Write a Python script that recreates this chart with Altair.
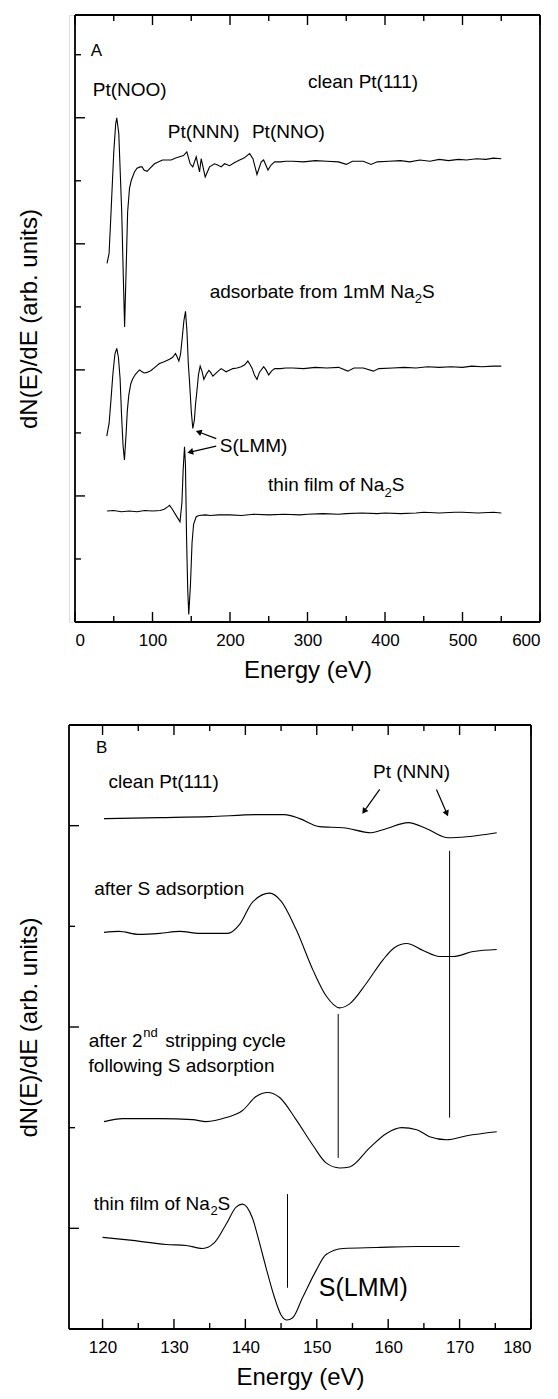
import math
import altair as alt
import pandas as pd

FONT = "Liberation Sans"

# ---------------- Panel A: survey spectra (energy in eV, signal in arb. units) ----------------
a_clean_E = [41.4, 44, 46.5, 50, 52.5, 53.9, 56.5, 60.3, 62.5, 64, 66, 67.9, 70.3, 72.5, 76.7, 80, 84,
             86.6, 89, 93, 97, 102.6, 108, 113, 118, 124, 130, 135, 140, 144.3, 148.6, 152, 156.4,
             160.7, 162.8, 168, 173.6, 180, 184, 188.6, 193, 199.5, 206, 212.4, 218, 225.3, 229.6,
             234.8, 240.3, 243.4, 249, 253, 257.6, 265, 272, 281, 295, 310, 325, 340, 350, 358, 372,
             382, 390, 405, 420, 432, 445, 458, 470, 482, 495, 505, 518, 530, 540, 550]
a_clean_u = [5.69, 5.85, 6.5, 7.45, 7.9, 8.0, 7.75, 6.5, 5.4, 4.68, 5.6, 6.5, 6.88, 7.0, 7.14, 7.2, 7.22,
             7.22, 7.17, 7.15, 7.2, 7.27, 7.3, 7.33, 7.33, 7.33, 7.36, 7.38, 7.4, 7.46, 7.27, 7.22, 7.38,
             7.14, 7.35, 7.06, 7.22, 7.27, 7.25, 7.22, 7.27, 7.24, 7.29, 7.33, 7.36, 7.43, 7.35,
             7.10, 7.30, 7.33, 7.17, 7.25, 7.30, 7.30, 7.31, 7.31, 7.30, 7.32, 7.31, 7.30, 7.26, 7.31, 7.31,
             7.26, 7.30, 7.31, 7.32, 7.30, 7.33, 7.31, 7.34, 7.32, 7.34, 7.33, 7.35, 7.34, 7.36, 7.35]

a_ads_E = [41, 44, 46.5, 49, 51.5, 53.9, 56, 58.2, 60, 62, 63.8, 66, 67.5, 69.4, 72, 74.5, 78, 83.2,
           86.5, 89.6, 93, 98.2, 103, 109, 115, 122, 126, 129.7, 132, 134, 136.2, 138.3, 140.5, 142.6,
           144.5, 146.2, 147.8, 150, 152, 154, 155.5, 157.2, 159.3, 161.5, 163.8, 166.3, 169.5, 172.7,
           175, 177.9, 183, 188.6, 195, 203.7, 209, 214.5, 219, 223, 226, 228.7, 231.5, 234.8, 238,
           243.4, 246.5, 249.9, 253.5, 257.6, 265, 272, 281, 295, 310, 325, 340, 352, 360, 372, 385,
           392, 410, 425, 440, 455, 470, 485, 500, 512, 525, 540, 550]
a_ads_u = [2.95, 3.15, 3.54, 3.95, 4.25, 4.34, 4.2, 3.86, 3.3, 2.8, 2.57, 3.0, 3.35, 3.60, 3.78, 3.86,
           3.93, 4.0, 3.97, 3.95, 3.96, 3.99, 4.04, 4.10, 4.13, 4.17, 4.2, 4.26, 4.2, 4.14, 4.25, 4.50,
           4.78, 4.93, 4.6, 4.1, 3.81, 3.35, 3.07, 3.2, 3.45, 3.65, 3.92, 4.06, 3.98, 3.85, 3.93, 3.99,
           3.96, 3.90, 3.96, 4.02, 3.97, 4.02, 4.03, 4.05, 4.08, 4.14, 4.08, 4.02, 3.92, 3.85, 3.96,
           4.05, 4.0, 3.92, 3.98, 4.02, 4.02, 4.03, 4.03, 4.02, 4.04, 4.03, 4.04, 3.98, 4.03, 4.03, 3.98,
           4.02, 4.03, 4.04, 4.03, 4.05, 4.04, 4.05, 4.04, 4.06, 4.05, 4.06, 4.06]

a_film_E = [41.4, 50, 60, 70, 80, 90, 100, 110, 115, 120, 122, 125, 130, 134, 135.5, 138, 139.5, 141.3,
            142.5, 144, 145.5, 146.8, 149, 151, 153, 156.4, 160, 168, 175, 185, 200, 215, 230, 250,
            270, 290, 300, 320, 340, 350, 370, 390, 400, 420, 440, 450, 470, 490, 500, 520, 540, 550]
a_film_u = [1.76, 1.77, 1.75, 1.76, 1.75, 1.77, 1.76, 1.77, 1.79, 1.83, 1.85, 1.80, 1.70, 1.62, 1.59,
            1.9, 2.4, 2.78, 2.5, 1.3, 0.5, 0.12, 0.6, 1.25, 1.55, 1.67, 1.69, 1.70, 1.69, 1.70, 1.70,
            1.69, 1.71, 1.70, 1.71, 1.70, 1.71, 1.72, 1.71, 1.72, 1.73, 1.72, 1.73, 1.72, 1.73, 1.74,
            1.73, 1.74, 1.74, 1.73, 1.74, 1.73]

# ---------------- Panel B: S(LMM) region ----------------
b_clean_E = [120.2, 128, 135, 142, 145.5, 147.6, 150.4, 153.7, 157.6, 159.7, 162.8, 165.4, 168.4, 171, 175.2]
b_clean_u = [5.07, 5.08, 5.09, 5.11, 5.11, 5.07, 4.99, 4.98, 4.93, 4.97, 5.03, 4.97, 4.88, 4.89, 4.93]

b_ads_E = [120.2, 122.3, 125.1, 128, 130.8, 133.6, 137.5, 139.2, 141, 143.4, 145, 147.1, 149.5, 151.3,
           153.2, 154.6, 156.9, 159.3, 160.9, 162.6, 164.9, 167.2, 169.1, 171.9, 175.2]
b_ads_u = [3.94, 3.95, 3.92, 3.93, 3.95, 3.93, 3.93, 4.02, 4.24, 4.33, 4.25, 3.97, 3.56, 3.31,
           3.19, 3.23, 3.43, 3.67, 3.79, 3.83, 3.76, 3.70, 3.70, 3.75, 3.77]

b_strip_E = [120.2, 122.8, 128, 132.6, 134.5, 137.3, 139.6, 141.5, 143.1, 144.8, 147.1, 149.5, 151.3,
             153.2, 154.6, 157.4, 159.7, 161.9, 164, 165.8, 168.2, 171, 175.2]
b_strip_u = [2.06, 2.09, 2.09, 2.08, 2.06, 2.10, 2.17, 2.31, 2.35, 2.30, 2.08, 1.82, 1.65,
             1.60, 1.61, 1.80, 1.94, 2.00, 1.98, 1.91, 1.88, 1.92, 1.96]

b_film_E = [120, 124.2, 128.9, 131.7, 134, 135.7, 137.3, 138.7, 139.6, 141.0, 142.0, 143.0, 144.0,
            145.0, 145.8, 146.6, 148, 149.9, 151.3, 153.7, 158.3, 164, 170]
b_film_u = [0.91, 0.88, 0.84, 0.83, 0.80, 0.86, 1.04, 1.21, 1.24, 1.10, 0.85, 0.58, 0.33,
            0.14, 0.09, 0.11, 0.31, 0.58, 0.74, 0.80, 0.81, 0.82, 0.82]

# vertical guide lines in panel B: energy, lower and upper signal
b_guide_E = [168.6, 153.0, 145.9]
b_guide_lo = [2.10, 1.70, 0.41]
b_guide_hi = [4.75, 3.13, 1.34]

# ---------------- geometry of the two panels ----------------
# plot area width, left inset of the frame inside it, height
A_W, A_INSET, A_H = 471, 6, 607
B_W, B_INSET, B_H = 462, 0, 604
A_X, A_Y = [0, 600], [0, 9.63]
B_X, B_Y = [115.3, 180], [0, 6]

a_major = [0, 100, 200, 300, 400, 500, 600]
a_minor = [50, 150, 250, 350, 450, 550]
a_left_long = [2, 4, 6, 8]
a_left_short = [1, 3, 5, 7, 9]
b_major = [120, 130, 140, 150, 160, 170, 180]
b_minor = [125, 135, 145, 155, 165, 175]
b_left_long = [1, 3, 5]
b_left_short = [2, 4]

# ---------------- annotations ----------------
# (energy, signal, text, size, align)
a_notes = [
    (20.3, 9.06, "A", 17, "left"),
    (22.9, 8.44, "Pt(NOO)", 19, "left"),
    (300.6, 8.56, "clean Pt(111)", 19, "left"),
    (119.8, 7.78, "Pt(NNN)", 19, "left"),
    (228.3, 7.78, "Pt(NNO)", 19, "left"),
    (438.1, 5.24, "adsorbate from 1mM Na", 19, "right"),
    (438.3, 5.12, "2", 13, "left"),
    (447.7, 5.24, "S", 19, "left"),
    (399.0, 2.17, "thin film of Na", 19, "right"),
    (399.2, 2.05, "2", 13, "left"),
    (408.6, 2.17, "S", 19, "left"),
    (186.9, 2.80, "S(LMM)", 19, "left"),
]
b_notes = [
    (119.07, 5.77, "B", 17, "left"),
    (120.84, 5.43, "clean Pt(111)", 19, "left"),
    (157.87, 5.53, "Pt (NNN)", 19, "left"),
    (118.84, 4.37, "after S adsorption", 19, "left"),
    (125.61, 2.86, "after 2", 19, "right"),
    (125.70, 2.94, "nd", 13, "left"),
    (128.79, 2.86, "stripping cycle", 19, "left"),
    (118.04, 2.61, "following S adsorption", 19, "left"),
    (135.03, 1.24, "thin film of Na", 19, "right"),
    (135.10, 1.17, "2", 13, "left"),
    (136.09, 1.24, "S", 19, "left"),
    (150.29, 0.41, "S(LMM)", 25, "left"),
]

# arrows: tail -> head
a_arrows = pd.DataFrame({"E0": [182.2, 182.2], "u0": [2.91, 2.79], "E1": [160.7, 149.9], "u1": [3.01, 2.70]})
b_arrows = pd.DataFrame({"E0": [158.81, 166.76], "u0": [5.36, 5.36], "E1": [156.69, 168.16], "u1": [5.15, 5.13]})


def series(pairs):
    rows = []
    for name, es, us in pairs:
        for e, u in zip(es, us):
            rows.append({"E": e, "u": u, "s": name})
    return pd.DataFrame(rows)


def arrow_frames(df, xdom, ydom, span_x, h):
    kx = span_x / (xdom[1] - xdom[0])
    ky = h / (ydom[1] - ydom[0])
    segs, heads = [], []
    for i, r in df.iterrows():
        segs.append({"E": r.E0, "u": r.u0, "k": i})
        segs.append({"E": r.E1, "u": r.u1, "k": i})
        dx = (r.E1 - r.E0) * kx
        dy = -(r.u1 - r.u0) * ky
        ang = math.degrees(math.atan2(dx, -dy)) % 360
        heads.append({"E": r.E1, "u": r.u1, "ang": ang})
    return pd.DataFrame(segs), pd.DataFrame(heads)


def panel(lines, xdom, ydom, w, inset, h, major, minor, left_long, left_short, notes, arrows,
          interp, guides=None):
    xs = alt.Scale(domain=xdom, range=[inset, w], nice=False, zero=False)
    ys = alt.Scale(domain=ydom, nice=False, zero=False)
    x_axis = alt.Axis(values=major, format="d", ticks=False, domain=False, grid=False,
                      labelFontSize=17, labelPadding=10, titleFontSize=24,
                      titleFontWeight="normal", titlePadding=10, labelColor="black",
                      titleColor="black", labelFont=FONT, titleFont=FONT)
    y_axis = alt.Axis(labels=False, ticks=False, domain=False, grid=False,
                      titleFontSize=24, titleFontWeight="normal", titlePadding=28,
                      titleColor="black", titleFont=FONT)
    XT, YT = "Energy (eV)", "dN(E)/dE (arb. units)"
    X = lambda f="E": alt.X(f"{f}:Q", scale=xs, axis=x_axis, title=XT)
    Y = lambda f="u": alt.Y(f"{f}:Q", scale=ys, axis=y_axis, title=YT)

    layers = [alt.Chart(lines).mark_line(color="black", strokeWidth=1.1, interpolate=interp)
              .encode(x=X(), y=Y(), detail="s:N")]

    # frame around the plotting region
    frame = pd.DataFrame({"x0": [inset, inset, inset, w], "x1": [w, w, inset, w],
                          "y0": [0, h, 0, 0], "y1": [0, h, h, h]})
    for _, r in frame.iterrows():
        layers.append(alt.Chart(pd.DataFrame({"k": [0]})).mark_rule(color="black", strokeWidth=1.8)
                      .encode(x=alt.value(float(r.x0)), x2=alt.value(float(r.x1)),
                              y=alt.value(float(r.y0)), y2=alt.value(float(r.y1))))

    def tick_layer(vals, length, where):
        d = pd.DataFrame({"v": vals})
        m = alt.Chart(d).mark_rule(color="black", strokeWidth=1.4)
        if where == "bottom":
            return m.encode(x=X("v"), y=alt.value(h), y2=alt.value(h - length))
        if where == "top":
            return m.encode(x=X("v"), y=alt.value(0), y2=alt.value(length))
        return m.encode(y=Y("v"), x=alt.value(inset), x2=alt.value(inset + length))

    layers += [tick_layer(major, 10, "bottom"), tick_layer(minor, 6, "bottom"),
               tick_layer(major, 10, "top"), tick_layer(minor, 6, "top"),
               tick_layer(left_long, 10, "left"), tick_layer(left_short, 6, "left")]

    notes_df = pd.DataFrame(notes, columns=["E", "u", "t", "size", "align"])
    for (size, align), grp in notes_df.groupby(["size", "align"]):
        layers.append(alt.Chart(grp).mark_text(align=align, baseline="middle", fontSize=int(size),
                                               font=FONT, color="black")
                      .encode(x=X(), y=Y(), text="t:N"))

    segs, heads = arrow_frames(arrows, xdom, ydom, w - inset, h)
    layers.append(alt.Chart(segs).mark_line(color="black", strokeWidth=1.2)
                  .encode(x=X(), y=Y(), detail="k:N"))
    layers.append(alt.Chart(heads).mark_point(shape="triangle", filled=True, color="black",
                                              opacity=1, size=45)
                  .encode(x=X(), y=Y(), angle=alt.Angle("ang:Q", scale=None)))
    if guides is not None:
        layers.append(alt.Chart(guides).mark_rule(color="black", strokeWidth=1)
                      .encode(x=X(), y=Y("lo"), y2="hi:Q"))
    return alt.layer(*layers).properties(width=w, height=h)


a_lines = series([("clean", a_clean_E, a_clean_u), ("ads", a_ads_E, a_ads_u), ("film", a_film_E, a_film_u)])
b_lines = series([("clean", b_clean_E, b_clean_u), ("ads", b_ads_E, b_ads_u),
                  ("strip", b_strip_E, b_strip_u), ("film", b_film_E, b_film_u)])
guides = pd.DataFrame({"E": b_guide_E, "lo": b_guide_lo, "hi": b_guide_hi})

panel_a = panel(a_lines, A_X, A_Y, A_W, A_INSET, A_H, a_major, a_minor, a_left_long, a_left_short,
                a_notes, a_arrows, "linear")
panel_b = panel(b_lines, B_X, B_Y, B_W, B_INSET, B_H, b_major, b_minor, b_left_long, b_left_short,
                b_notes, b_arrows, "monotone", guides=guides)

chart = alt.vconcat(panel_a, panel_b, spacing=40).properties(
    padding={"left": 16, "top": 13, "right": 0, "bottom": 0}
).configure_view(strokeWidth=0).configure(font=FONT, background="white")

chart.save("out.html", embed_options={"renderer": "svg", "actions": False})
